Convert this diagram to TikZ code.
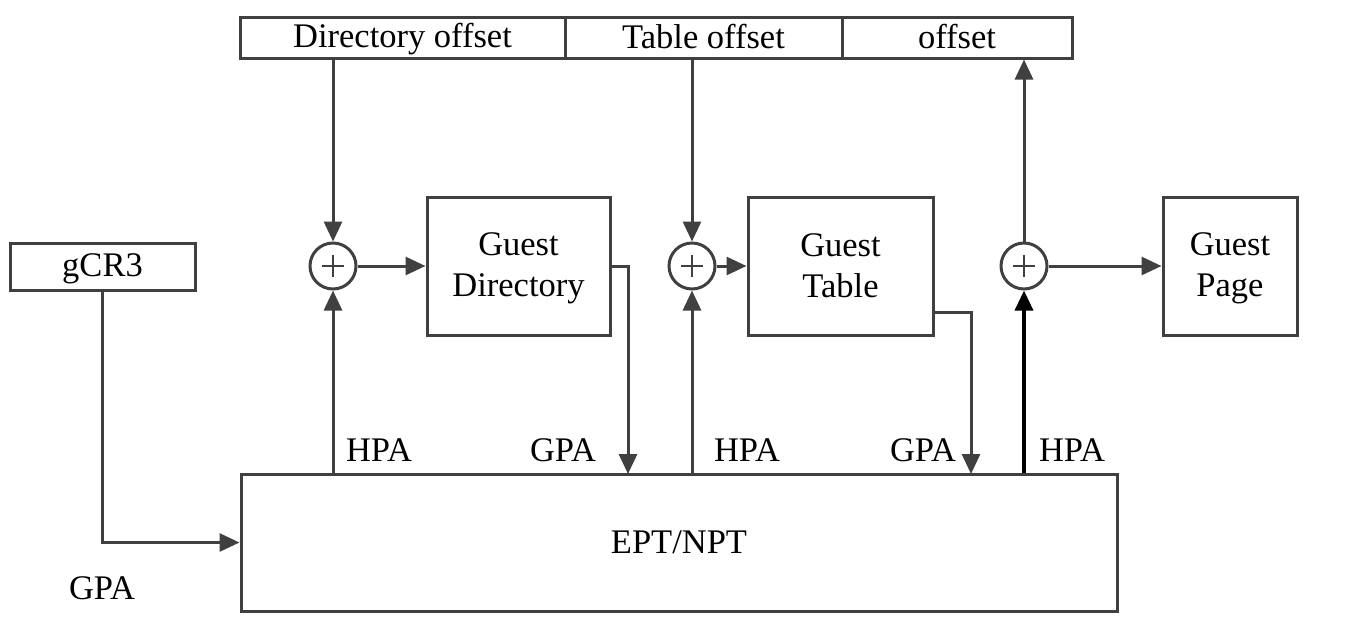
\documentclass[tikz,border=0pt]{standalone}
\usepackage{fontspec}
\setmainfont{Liberation Serif}
\usetikzlibrary{arrows.meta}
\definecolor{lc}{RGB}{64,64,64}
\newcommand{\ms}{\rule[-6pt]{0pt}{33pt}}
\begin{document}
\begin{tikzpicture}[x=1pt,y=-1pt,
  line/.style={draw=lc, line width=3pt},
  arr/.style={line, -{Triangle[length=20pt,width=18pt]}},
  box/.style={draw=lc, line width=3pt, inner sep=0pt, font=\fontsize{34.5}{41}\selectfont, align=center},
  sum/.style={circle, draw=lc, line width=3pt, minimum size=46pt, inner sep=0pt},
  plus/.style={draw=lc, line width=1.3pt},
  lab/.style={font=\fontsize{34.5}{41}\selectfont}]
\useasboundingbox (0,0) rectangle (1363,625);
% top bar
\node[box, minimum width=325pt, minimum height=41pt] (dir) at (402.5,37.5) {\ms Directory offset};
\node[box, minimum width=277pt, minimum height=41pt] (tab) at (703.5,37.5) {\ms Table offset};
\node[box, minimum width=230pt, minimum height=41pt] (off) at (957,37.5) {\ms offset};
% boxes
\node[box, minimum width=185pt, minimum height=47pt] (gcr) at (102.5,266.5) {\ms gCR3};
\node[box, minimum width=183pt, minimum height=138pt] (gd) at (518.5,266) {\ms Guest\\\ms Directory};
\node[box, minimum width=185pt, minimum height=138pt] (gt) at (840.5,266) {\ms Guest\\\ms Table};
\node[box, minimum width=134pt, minimum height=138pt] (gp) at (1230,266) {\ms Guest\\\ms Page};
\node[box, minimum width=876pt, minimum height=137pt] (ept) at (679,542.5) {\ms EPT/NPT};
% adders
\foreach \n/\x in {s1/333,s2/692,s3/1024}{
  \node[sum] (\n) at (\x,266) {};
  \draw[plus] ([xshift=-11pt]\n.center) -- ([xshift=11pt]\n.center)
              ([yshift=-11pt]\n.center) -- ([yshift=11pt]\n.center);
}
\coordinate (g1) at (628,474);
\coordinate (g2) at (971,474);
% connectors
\draw[arr] (s1 |- dir.south) -- (s1.north);
\draw[arr] (s1 |- ept.north) -- (s1.south);
\draw[arr] (s1.east) -- (gd.west);
\draw[arr] (gd.east) -| (g1);
\draw[arr] (s2 |- tab.south) -- (s2.north);
\draw[arr] (s2 |- ept.north) -- (s2.south);
\draw[arr] (s2.east) -- (gt.west);
\draw[arr] ([yshift=-46pt]gt.east) -| (g2);
\draw[arr] (s3.north) -- (s3 |- off.south);
\draw[arr, draw=black, line width=3.5pt] (s3 |- ept.north) -- (s3.south);
\draw[arr] (s3.east) -- (gp.west);
\draw[arr] (gcr.south) |- (ept.west);
% labels
\node[lab] (h1) at (379,450) {HPA};
\node[lab] (p1) at (563,450) {GPA};
\node[lab] (h2) at (747,450) {HPA};
\node[lab] (p2) at (923,450) {GPA};
\node[lab] (h3) at (1072,450) {HPA};
\node[lab] (p0) at (102,588) {GPA};
\end{tikzpicture}
\end{document}
